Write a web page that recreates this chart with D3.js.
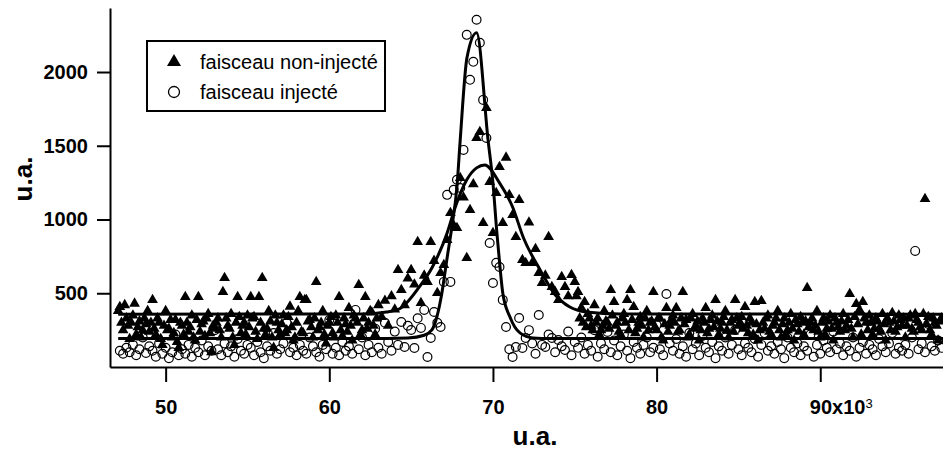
<!DOCTYPE html>
<html>
<head>
<meta charset="utf-8">
<script src="https://cdn.jsdelivr.net/npm/d3@7/dist/d3.min.js"></script>
<style>
  html, body { margin: 0; padding: 0; background: #fff; }
  svg { display: block; }
  text { font-family: "Liberation Sans", Arial, sans-serif; }
</style>
</head>
<body>
<svg id="chart" width="943" height="452"></svg>
<script>
// ---------- DATA ----------
// x positions of the non-injected beam samples (triangles)
const xNonInjected = [
  47.1,47.2,47.3,47.4,47.5,47.6,47.7,47.8,47.9,48.0,48.1,48.2,48.3,48.4,48.5,48.6,48.7,48.8,48.9,49.0,
  49.1,49.2,49.3,49.4,49.5,49.6,49.7,49.8,49.9,50.0,50.1,50.2,50.3,50.4,50.5,50.6,50.7,50.8,50.9,51.0,
  51.1,51.2,51.3,51.4,51.5,51.6,51.7,51.8,51.9,52.0,52.1,52.2,52.3,52.4,52.5,52.6,52.7,52.8,52.9,53.0,
  53.1,53.2,53.3,53.4,53.5,53.6,53.7,53.8,53.9,54.0,54.1,54.2,54.3,54.4,54.5,54.6,54.7,54.8,54.9,55.0,
  55.1,55.2,55.3,55.4,55.5,55.6,55.7,55.8,55.9,56.0,56.1,56.2,56.3,56.4,56.5,56.6,56.7,56.8,56.9,57.0,
  57.1,57.2,57.3,57.4,57.5,57.6,57.7,57.8,57.9,58.0,58.1,58.2,58.3,58.4,58.5,58.6,58.7,58.8,58.9,59.0,
  59.1,59.2,59.3,59.4,59.5,59.6,59.7,59.8,59.9,60.0,60.1,60.2,60.3,60.4,60.5,60.6,60.7,60.8,60.9,61.0,
  61.1,61.2,61.3,61.4,61.5,61.6,61.7,61.8,61.9,62.0,62.1,62.2,62.3,62.4,62.5,62.6,62.7,62.8,62.9,63.0,
  63.2,63.4,63.6,63.8,64.0,64.2,64.4,64.6,64.8,65.0,
  65.2,65.4,65.6,65.8,66.0,66.2,66.4,66.6,66.8,67.0,
  67.2,67.4,67.6,67.8,68.0,68.2,68.4,68.6,68.8,69.0,
  69.2,69.4,69.6,69.8,70.0,70.2,70.4,70.6,70.8,71.0,
  71.2,71.4,71.6,71.8,72.0,72.2,72.4,72.6,72.8,73.0,
  73.2,73.4,73.6,73.8,74.0,74.2,74.4,74.6,74.8,75.0,
  75.1,75.2,75.3,75.4,75.5,75.6,75.7,75.8,75.9,76.0,76.1,76.2,76.3,76.4,76.5,76.6,76.7,76.8,76.9,77.0,
  77.1,77.2,77.3,77.4,77.5,77.6,77.7,77.8,77.9,78.0,78.1,78.2,78.3,78.4,78.5,78.6,78.7,78.8,78.9,79.0,
  79.1,79.2,79.3,79.4,79.5,79.6,79.7,79.8,79.9,80.0,80.1,80.2,80.3,80.4,80.5,80.6,80.7,80.8,80.9,81.0,
  81.1,81.2,81.3,81.4,81.5,81.6,81.7,81.8,81.9,82.0,82.1,82.2,82.3,82.4,82.5,82.6,82.7,82.8,82.9,83.0,
  83.1,83.2,83.3,83.4,83.5,83.6,83.7,83.8,83.9,84.0,84.1,84.2,84.3,84.4,84.5,84.6,84.7,84.8,84.9,85.0,
  85.1,85.2,85.3,85.4,85.5,85.6,85.7,85.8,85.9,86.0,86.1,86.2,86.3,86.4,86.5,86.6,86.7,86.8,86.9,87.0,
  87.1,87.2,87.3,87.4,87.5,87.6,87.7,87.8,87.9,88.0,88.1,88.2,88.3,88.4,88.5,88.6,88.7,88.8,88.9,89.0,
  89.1,89.2,89.3,89.4,89.5,89.6,89.7,89.8,89.9,90.0,90.1,90.2,90.3,90.4,90.5,90.6,90.7,90.8,90.9,91.0,
  91.1,91.2,91.3,91.4,91.5,91.6,91.7,91.8,91.9,92.0,92.1,92.2,92.3,92.4,92.5,92.6,92.7,92.8,92.9,93.0,
  93.1,93.2,93.3,93.4,93.5,93.6,93.7,93.8,93.9,94.0,94.1,94.2,94.3,94.4,94.5,94.6,94.7,94.8,94.9,95.0,
  95.1,95.2,95.3,95.4,95.5,95.6,95.7,95.8,95.9,96.0,96.1,96.2,96.3,96.4,96.5,96.6,96.7,96.8,96.9,97.0,
  97.1,97.2,97.3,97.4
];

// faisceau non-injecté (triangles)
const nonInjected = [
  380,407,300,250,420,330,280,190,300,350,430,220,270,310,200,250,330,290,380,240,
  300,455,260,220,330,300,190,150,280,380,250,260,320,200,230,320,170,130,300,280,
  220,475,300,240,270,350,200,180,320,475,240,290,310,210,330,360,230,100,280,260,
  300,330,250,200,509,604,330,280,260,360,200,150,300,475,340,230,280,300,220,350,
  270,475,330,340,240,190,475,300,604,260,220,260,380,310,200,130,350,300,250,220,
  290,350,230,250,340,410,270,180,200,300,380,475,240,230,455,455,310,320,270,200,
  330,577,250,270,300,380,220,160,280,300,340,230,200,350,300,475,250,210,330,290,
  240,400,280,180,350,330,300,556,220,250,330,475,260,300,380,370,280,220,330,420,
  340,450,280,480,390,658,522,420,600,658,
  560,848,434,620,577,848,720,502,638,692,
  862,1045,960,943,1282,1150,740,1065,1240,1553,
  1594,977,1757,1255,909,1180,1357,977,1420,1167,
  1031,882,1133,726,706,980,706,800,638,570,
  620,882,543,509,455,611,543,480,624,577,
  480,509,330,400,300,441,270,360,330,280,250,420,300,330,220,250,280,380,310,300,
  260,522,350,441,280,300,240,220,330,360,300,455,250,522,320,407,230,260,300,340,
  280,200,330,380,250,300,310,509,270,250,330,330,200,180,290,400,240,280,320,350,
  300,400,240,250,330,509,290,320,200,220,330,360,260,280,310,180,250,330,300,400,
  230,260,320,350,270,455,310,220,260,300,340,380,250,200,300,320,240,455,330,280,
  300,340,260,407,280,230,330,300,220,441,290,180,250,448,300,260,330,350,240,220,
  280,300,330,380,250,200,290,330,220,250,300,360,260,180,320,290,240,340,300,220,
  310,536,270,300,330,250,280,380,240,200,300,330,220,260,310,350,260,180,330,300,
  270,240,310,360,250,280,320,495,260,200,340,427,290,387,220,441,330,300,250,350,
  300,220,260,330,310,260,240,360,290,180,330,300,250,366,310,240,270,350,320,280,
  330,200,280,330,350,260,240,360,320,300,270,250,360,1140,290,340,250,220,330,300,
  280,180,310,330
];

// x positions of the injected beam samples (circles)
const xInjected = [
  47.2,47.4,47.6,47.8,48.0,48.2,48.4,48.6,48.8,49.0,
  49.2,49.4,49.6,49.8,50.0,50.2,50.4,50.6,50.8,51.0,
  51.2,51.4,51.6,51.8,52.0,52.2,52.4,52.6,52.8,53.0,
  53.2,53.4,53.6,53.8,54.0,54.2,54.4,54.6,54.8,55.0,
  55.2,55.4,55.6,55.8,56.0,56.2,56.4,56.6,56.8,57.0,
  57.2,57.4,57.6,57.8,58.0,58.2,58.4,58.6,58.8,59.0,
  59.2,59.4,59.6,59.8,60.0,60.2,60.4,60.6,60.8,61.0,
  61.2,61.4,61.6,61.8,62.0,62.2,62.4,62.6,62.8,63.0,
  63.2,63.4,63.6,63.8,64.0,64.2,64.4,64.6,64.8,65.0,
  65.2,65.4,65.6,65.8,66.0,66.2,66.4,66.6,66.8,67.0,
  67.2,67.4,67.6,67.8,68.0,68.2,68.4,68.6,68.8,69.0,
  69.2,69.4,69.6,69.8,70.0,70.2,70.4,70.6,70.8,71.0,
  71.2,71.4,71.6,71.8,72.0,72.2,72.4,72.6,72.8,73.0,
  73.2,73.4,73.6,73.8,74.0,74.2,74.4,74.6,74.8,75.0,
  75.2,75.4,75.6,75.8,76.0,76.2,76.4,76.6,76.8,77.0,
  77.2,77.4,77.6,77.8,78.0,78.2,78.4,78.6,78.8,79.0,
  79.2,79.4,79.6,79.8,80.0,80.2,80.4,80.6,80.8,81.0,
  81.2,81.4,81.6,81.8,82.0,82.2,82.4,82.6,82.8,83.0,
  83.2,83.4,83.6,83.8,84.0,84.2,84.4,84.6,84.8,85.0,
  85.2,85.4,85.6,85.8,86.0,86.2,86.4,86.6,86.8,87.0,
  87.2,87.4,87.6,87.8,88.0,88.2,88.4,88.6,88.8,89.0,
  89.2,89.4,89.6,89.8,90.0,90.2,90.4,90.6,90.8,91.0,
  91.2,91.4,91.6,91.8,92.0,92.2,92.4,92.6,92.8,93.0,
  93.2,93.4,93.6,93.8,94.0,94.2,94.4,94.6,94.8,95.0,
  95.2,95.4,95.6,95.8,96.0,96.2,96.4,96.6,96.8,97.0,
  97.2,97.4
];

// faisceau injecté (circles)
const injected = [
  110,90,130,100,150,80,120,200,95,140,
  110,70,160,90,130,60,100,220,80,120,
  90,150,70,130,100,180,80,140,110,250,
  120,80,160,100,140,70,190,110,90,150,
  130,80,170,100,60,140,110,230,90,120,
  160,298,100,130,80,150,110,90,200,140,
  100,70,150,120,319,90,130,80,170,110,
  140,90,387,120,200,80,150,100,260,130,
  90,300,170,110,240,150,305,136,280,251,
  129,330,265,387,68,197,373,300,271,577,
  1167,577,1201,1269,1214,1472,2252,1947,2069,2354,
  2198,1811,1553,841,570,706,678,455,271,120,
  68,136,332,129,197,250,160,90,353,150,
  136,220,197,100,183,140,115,240,80,170,
  130,200,90,150,110,250,70,160,120,237,
  100,180,80,140,220,110,60,170,130,90,
  150,200,100,130,285,120,80,495,160,110,
  190,90,140,70,230,120,160,80,210,130,
  100,170,60,140,110,200,90,150,251,120,
  80,160,130,100,190,70,150,230,110,140,
  90,170,120,60,200,130,100,160,80,140,
  110,220,70,150,90,180,130,100,240,120,
  160,80,140,110,200,70,130,170,90,150,
  120,80,190,140,100,160,230,90,130,110,
  150,90,200,787,120,160,100,292,140,110,
  180,130
];

// fitted curves
const fitNonX = [47.1, 62.0, 63.5, 64.3, 65.5, 66.3, 67.2, 67.7, 68.4, 69.0, 69.5, 70.4, 71.2, 71.85, 72.9, 73.8, 74.7, 75.7, 77.8, 97.5];
const fitNonY = [358, 360, 373, 395, 543, 678, 909, 1085, 1269, 1350, 1370, 1248, 1085, 880, 655, 490, 407, 373, 360, 358];
const fitInjX = [47.1, 63.5, 64.8, 65.8, 66.27, 66.57, 66.88, 67.18, 67.49, 67.8, 68.0, 68.41, 69.0, 69.7, 70.0, 70.24, 70.43, 70.6, 71.04, 71.65, 72.45, 73.5, 97.5];
const fitInjY = [193, 193, 196, 215, 251, 339, 502, 726, 950, 1221, 1540, 2096, 2266, 1540, 1248, 909, 678, 502, 339, 231, 197, 193, 193];

const xTicks = [50, 60, 70, 80, 90];
const yTicks = [500, 1000, 1500, 2000];
const legendLabels = ["faisceau non-injecté", "faisceau injecté"];
const axisTitle = "u.a.";

// ---------- CHART ----------
const svg = d3.select("#chart");
const x = d3.scaleLinear().domain([46.6, 97.5]).range([110, 943]);
const y = d3.scaleLinear().domain([0, 2434]).range([367, 8]);

// circles (injected)
svg.append("g").selectAll("circle")
  .data(injected.map((v, i) => [xInjected[i], v]))
  .join("circle")
  .attr("cx", d => x(d[0]))
  .attr("cy", d => y(d[1]))
  .attr("r", 4.4)
  .attr("fill", "none")
  .attr("stroke", "#000")
  .attr("stroke-width", 1.2);

// triangles (non-injected)
const tri = d3.symbol().type(d3.symbolTriangle).size(50);
svg.append("g").selectAll("path")
  .data(nonInjected.map((v, i) => [xNonInjected[i], v]))
  .join("path")
  .attr("d", tri)
  .attr("transform", d => `translate(${x(d[0])},${y(d[1])})`)
  .attr("fill", "#000");

// fit lines
const line = d3.line().x(d => x(d[0])).y(d => y(d[1])).curve(d3.curveMonotoneX);
svg.append("path")
  .attr("d", line(fitNonX.map((v, i) => [v, fitNonY[i]])))
  .attr("fill", "none").attr("stroke", "#000").attr("stroke-width", 3);
svg.append("path")
  .attr("d", line(fitInjX.map((v, i) => [v, fitInjY[i]])))
  .attr("fill", "none").attr("stroke", "#000").attr("stroke-width", 3);

// axes
const xAxis = d3.axisBottom(x).tickValues(xTicks).tickSize(15).tickSizeOuter(0).tickPadding(18)
  .tickFormat(d => d === 90 ? "90x10" : String(d));
const gx = svg.append("g").attr("transform", "translate(0,367)").call(xAxis);
const yAxis = d3.axisLeft(y).tickValues(yTicks).tickSize(13).tickSizeOuter(0).tickPadding(9)
  .tickFormat(d => String(d));
const gy = svg.append("g").attr("transform", "translate(110,0)").call(yAxis);

[gx, gy].forEach(g => {
  g.select(".domain").attr("stroke", "#000").attr("stroke-width", 2);
  g.selectAll(".tick line").attr("stroke", "#000").attr("stroke-width", 2);
  g.selectAll(".tick text")
    .attr("fill", "#000")
    .style("font-family", '"Liberation Sans", Arial, sans-serif')
    .style("font-size", "20px")
    .style("font-weight", "bold");
});
gx.selectAll(".tick text").filter(d => d === 90)
  .attr("text-anchor", "start")
  .attr("x", -11)
  .append("tspan").attr("dy", "-0.5em").style("font-size", "13px").style("font-weight", "normal").text("3");

// axis titles
svg.append("text")
  .attr("x", 535).attr("y", 445)
  .attr("text-anchor", "middle")
  .style("font-size", "26px").style("font-weight", "bold")
  .text(axisTitle);
svg.append("text")
  .attr("transform", "translate(32,179) rotate(-90)")
  .attr("text-anchor", "middle")
  .style("font-size", "26px").style("font-weight", "bold")
  .text(axisTitle);

// legend
const lg = svg.append("g");
lg.append("rect").attr("x", 147).attr("y", 41).attr("width", 238).attr("height", 70)
  .attr("fill", "#fff").attr("stroke", "#000").attr("stroke-width", 2);
lg.append("path").attr("d", d3.symbol().type(d3.symbolTriangle).size(85)())
  .attr("transform", "translate(174,62)").attr("fill", "#000");
lg.append("circle").attr("cx", 174).attr("cy", 92).attr("r", 5.5)
  .attr("fill", "none").attr("stroke", "#000").attr("stroke-width", 1.3);
lg.selectAll("text.lbl").data(legendLabels).join("text")
  .attr("class", "lbl")
  .attr("x", 200).attr("y", (d, i) => 69 + i * 30)
  .style("font-size", "20px")
  .text(d => d);
</script>
</body>
</html>
